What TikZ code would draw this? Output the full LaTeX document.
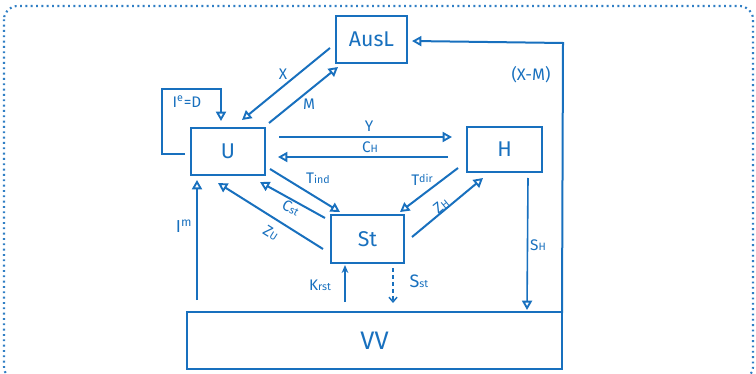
\documentclass[tikz,border=0pt]{standalone}
\usepackage{fontspec}
\setmainfont{Fira Sans}
\usetikzlibrary{arrows.meta}
\definecolor{ink}{RGB}{24,112,190}
\newcommand{\smtxt}{\fontsize{8}{9}\selectfont}
\begin{document}
\begin{tikzpicture}[x=0.75pt,y=-0.75pt,
  every node/.style={text=ink},
  box/.style={draw=ink,line width=2.1pt,inner sep=0pt,font=\fontsize{16}{18}\selectfont},
  lbl/.style={font=\fontsize{11.5}{12}\selectfont,inner sep=0.5pt},
  conn/.style={draw=ink,line width=1.5pt,-{Triangle[open,length=7pt,width=7.5pt,line width=1.4pt]}},
  plain/.style={draw=ink,line width=1.5pt},
  thin/.style={draw=ink,line width=1.1pt}
]
\useasboundingbox (0,0) rectangle (756,374);
% outer dotted frame
\draw[ink,line width=1.6pt,dash pattern=on 1.4pt off 2.6pt,rounded corners=10pt,opacity=0.9] (4,6) rectangle (753,380);

% boxes
\node[box,minimum width=53.25pt,minimum height=35.25pt] (ausl) at (371.5,39.5) {AusL};
\node[box,minimum width=55.5pt,minimum height=35.25pt] (u) at (228,151.5) {U};
\node[box,minimum width=56.25pt,minimum height=33.75pt] (h) at (504.5,149.5) {H};
\node[box,minimum width=54.75pt,minimum height=36pt] (st) at (367.5,239) {St};
\node[box,minimum width=281.25pt,minimum height=42.75pt,font=\fontsize{19}{20}\selectfont] (vv) at (374.5,340.5) {VV};

% endpoint coordinates
\coordinate (xA) at (330,48);   \coordinate (xU) at (242,120);
\coordinate (mU) at (269,123);  \coordinate (mA) at (338,67);
\coordinate (ieS) at (185,154); \coordinate (ie1) at (162,154);
\coordinate (ie2) at (162,89);  \coordinate (ie3) at (221,89);
\coordinate (ieE) at (221,121);
\coordinate (yU) at (279,137);  \coordinate (yH) at (452,137);
\coordinate (cH) at (448,157);  \coordinate (cU) at (278,157);
\coordinate (tiU) at (270,169); \coordinate (tiS) at (340,212);
\coordinate (csS) at (325,218); \coordinate (csU) at (260,182);
\coordinate (zuS) at (323,249); \coordinate (zuU) at (218,183);
\coordinate (tdH) at (458,168); \coordinate (tdS) at (400,212);
\coordinate (zhS) at (412,237); \coordinate (zhH) at (483,178);
\coordinate (shH) at (528,178); \coordinate (shV) at (527,310);
\coordinate (ssS) at (393,268); \coordinate (ssV) at (393,303);
\coordinate (krV) at (345,302); \coordinate (krS) at (345,265);
\coordinate (imV) at (197,300); \coordinate (imU) at (197,180);
\coordinate (xmV) at (562,313); \coordinate (xm1) at (563,43);
\coordinate (xmA) at (412,41);

% connectors
\draw[conn] (xA) -- (xU);
\draw[conn] (mU) -- (mA);
\draw[conn] (ieS) -- (ie1) -- (ie2) -- (ie3) -- (ieE);
\draw[conn] (yU) -- (yH);
\draw[conn] (cH) -- (cU);
\draw[conn] (tiU) -- (tiS);
\draw[conn] (csS) -- (csU);
\draw[conn] (zuS) -- (zuU);
\draw[conn] (tdH) -- (tdS);
\draw[conn] (zhS) -- (zhH);
\draw[conn,line width=1.2pt] (shH) -- (shV);
\draw[thin,dash pattern=on 3pt off 2.2pt,-{Straight Barb[length=3.5pt,width=6pt,line width=1.1pt]}] (ssS) -- (ssV);
\draw[plain,-{Stealth[length=6pt,width=5pt]}] (krV) -- (krS);
\draw[conn,line width=1.3pt] (imV) -- (imU);
\draw[conn] (xmV) -- (xm1) -- (xmA);

% labels
\node[lbl] (lx) at (283,74) {X};
\node[lbl] (lm) at (309,104) {M};
\node[lbl] (lie) at (187,102) {I\textsuperscript{e}=D};
\node[lbl] (ly) at (369,126) {Y};
\node[lbl] (lch) at (370,147) {C{\smtxt H}};
\node[lbl] (lti) at (318,178) {T{\smtxt ind}};
\node[lbl] (ltd) at (422,180) {T\raisebox{2pt}{\smtxt dir}};
\node[lbl,rotate=-28] (lcs) at (291,208) {C{\smtxt st}};
\node[lbl,rotate=-32] (lzu) at (271,233) {Z{\smtxt U}};
\node[lbl,rotate=39] (lzh) at (441,206) {Z{\smtxt H}};
\node[lbl] (lsh) at (538,245) {S{\smtxt H}};
\node[lbl,font=\fontsize{13.5}{14}\selectfont] (lss) at (419,281) {S{\smtxt st}};
\node[lbl] (lkr) at (320,285) {K{\smtxt rst}};
\node[lbl,font=\fontsize{13}{14}\selectfont] (lim) at (184,226) {I\textsuperscript{m}};
\node[lbl,font=\fontsize{12.5}{13}\selectfont] (lxm) at (531,75) {(X-M)};
\end{tikzpicture}
\end{document}
